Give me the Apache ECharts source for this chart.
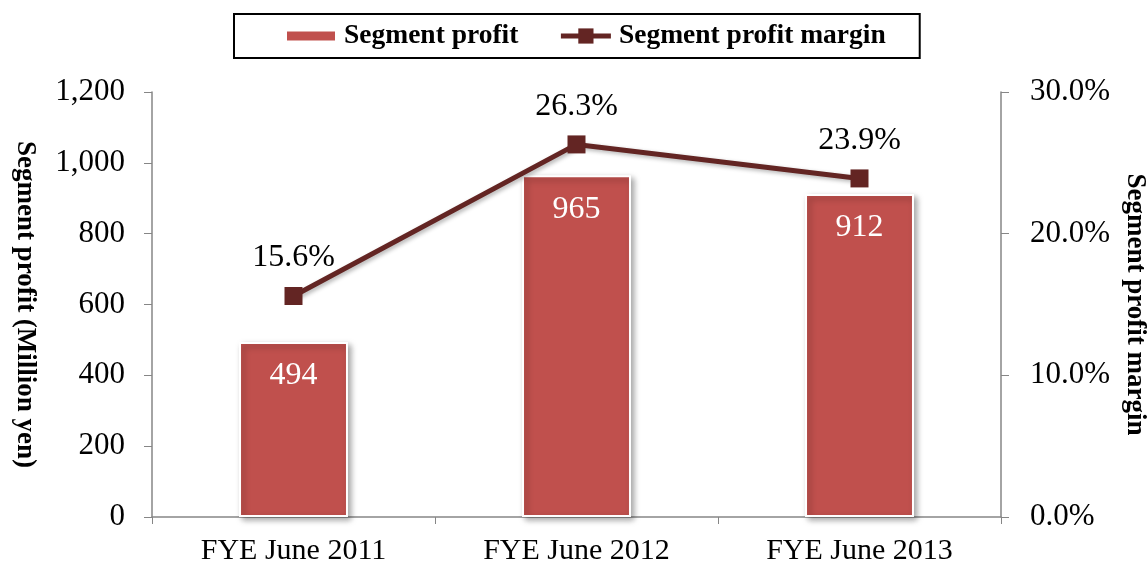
<!DOCTYPE html>
<html><head><meta charset="utf-8">
<script src="https://cdn.jsdelivr.net/npm/echarts@6/dist/echarts.min.js"></script>
<style>html,body{margin:0;padding:0;background:#fff}#c{width:1147px;height:567px}</style>
</head><body><div id="c"></div>
<script>
const categories = ['FYE June 2011', 'FYE June 2012', 'FYE June 2013'];
const segmentProfit = [494, 965, 912];
const profitMargin = [15.6, 26.3, 23.9];
const leftTicks = {min: 0, max: 1200, interval: 200};
const rightTicks = {min: 0, max: 30, interval: 10};

const font = '"Liberation Serif", "Times New Roman", serif';
const chart = echarts.init(document.getElementById('c'));
chart.setOption({
  animation: false,
  textStyle: {fontFamily: font},
  legend: {
    left: 234, top: 14,
    padding: [8, 34, 8, 51],
    borderColor: '#000', borderWidth: 2,
    itemGap: 40, itemWidth: 50, itemHeight: 19,
    textStyle: {fontFamily: font, fontWeight: 'bold', fontSize: 27.5, color: '#000', padding: [0, 0, 0, 3]},
    lineStyle: {width: 5},
    data: [{name: 'Segment profit', icon: 'path://M0,0 H46 V10 H0 Z'}, {name: 'Segment profit margin'}]
  },
  grid: {left: 152, right: 146, top: 92, bottom: 50, outerBoundsMode: 'none', containLabel: false},
  xAxis: {
    type: 'category', data: categories,
    axisLine: {lineStyle: {color: '#868686', width: 1.5}},
    axisTick: {show: true, length: 7, alignWithLabel: false, lineStyle: {color: '#868686'}},
    axisLabel: {fontFamily: font, fontSize: 30, color: '#000', margin: 19}
  },
  yAxis: [{
    type: 'value', min: leftTicks.min, max: leftTicks.max, interval: leftTicks.interval,
    name: 'Segment profit (Million yen)', nameLocation: 'middle', nameGap: 114, nameRotate: 270,
    nameTextStyle: {fontFamily: font, fontWeight: 'bold', fontSize: 27, color: '#000'},
    axisLine: {show: true, lineStyle: {color: '#868686', width: 1.5}},
    axisTick: {show: true, length: 8, lineStyle: {color: '#868686'}},
    splitLine: {show: false},
    axisLabel: {fontFamily: font, fontSize: 31, color: '#000', margin: 27,
      formatter: v => v.toLocaleString('en-US')}
  }, {
    type: 'value', min: rightTicks.min, max: rightTicks.max, interval: rightTicks.interval,
    position: 'right',
    name: 'Segment profit margin', nameLocation: 'middle', nameGap: 117, nameRotate: 270,
    nameTextStyle: {fontFamily: font, fontWeight: 'bold', fontSize: 27, color: '#000'},
    axisLine: {show: true, lineStyle: {color: '#868686', width: 1.5}},
    axisTick: {show: true, length: 8, lineStyle: {color: '#868686'}},
    splitLine: {show: false},
    axisLabel: {fontFamily: font, fontSize: 31, color: '#000', margin: 29,
      formatter: v => v.toFixed(1) + '%'}
  }],
  series: [{
    name: 'Segment profit', type: 'bar', data: segmentProfit, barWidth: '38.5%',
    itemStyle: {color: '#C0504D', borderColor: '#fff', borderWidth: 2,
      shadowBlur: 6, shadowColor: 'rgba(0,0,0,0.35)', shadowOffsetX: 3, shadowOffsetY: 3},
    label: {show: true, position: 'insideTop', distance: 18, color: '#fff',
      fontFamily: font, fontSize: 32}
  }, {
    name: 'Segment profit margin', type: 'line', yAxisIndex: 1, data: profitMargin,
    symbol: 'rect', symbolSize: 18,
    lineStyle: {color: '#632523', width: 5, shadowBlur: 4, shadowColor: 'rgba(0,0,0,0.3)', shadowOffsetX: 2, shadowOffsetY: 2},
    itemStyle: {color: '#632523'},
    label: {show: true, position: 'top', distance: 13, color: '#000',
      fontFamily: font, fontSize: 32, formatter: p => p.value.toFixed(1) + '%'}
  }]
});
</script></body></html>
